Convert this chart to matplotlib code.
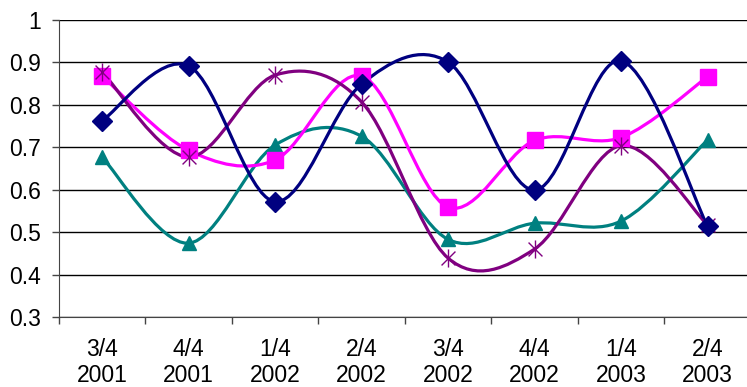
import numpy as np
import matplotlib
matplotlib.use("Agg")
import matplotlib.pyplot as plt
from matplotlib.path import Path
from matplotlib.patches import PathPatch

plt.rcParams['font.family'] = ['Liberation Sans', 'DejaVu Sans']

# quarters on the x axis
quarters = ["3/4\n2001", "4/4\n2001", "1/4\n2002", "2/4\n2002",
            "3/4\n2002", "4/4\n2002", "1/4\n2003", "2/4\n2003"]

navy_vals = [0.762, 0.892, 0.572, 0.849, 0.901, 0.599, 0.904, 0.514]
pink_vals = [0.868, 0.693, 0.670, 0.868, 0.559, 0.716, 0.723, 0.866]
teal_vals = [0.677, 0.474, 0.705, 0.726, 0.483, 0.521, 0.526, 0.717]
purple_vals = [0.878, 0.677, 0.870, 0.807, 0.439, 0.460, 0.704, 0.517]


def smooth_path(xs, ys):
    # Catmull-Rom style bezier through every point, like spreadsheet smoothing
    pts = np.column_stack([xs, ys]).astype(float)
    n = len(pts)
    verts = [pts[0]]
    codes = [Path.MOVETO]
    for i in range(n - 1):
        p0 = pts[max(i - 1, 0)]
        p1 = pts[i]
        p2 = pts[i + 1]
        p3 = pts[min(i + 2, n - 1)]
        c1 = p1 + (p2 - p0) / 6.0
        c2 = p2 - (p3 - p1) / 6.0
        verts += [c1, c2, p2]
        codes += [Path.CURVE4] * 3
    return Path(verts, codes)


# asterisk: x plus a vertical bar
star = Path([(-1, -1), (1, 1), (-1, 1), (1, -1), (0, -1.3), (0, 1.3)],
            [Path.MOVETO, Path.LINETO, Path.MOVETO, Path.LINETO,
             Path.MOVETO, Path.LINETO])

fig = plt.figure(figsize=(7.47, 3.87), dpi=100)
W, H = 747.0, 387.0
ax = fig.add_axes([58.75 / W, (H - 317) / H, 692.0 / W, 297.0 / H])

x = np.arange(len(quarters))
series = [
    (teal_vals, "#008080", "^", 10, None),
    (pink_vals, "#FF00FF", "s", 11.5, None),
    (purple_vals, "#800080", star, 13, 1.0),
    (navy_vals, "#000080", "D", 10.5, None),
]
for vals, col, mk, ms, mew in series:
    ax.add_patch(PathPatch(smooth_path(x, vals), fill=False,
                           edgecolor=col, lw=2.3, zorder=3))
    if mew:
        ax.plot(x, vals, ls="none", marker=mk, ms=ms, mec=col, mew=mew,
                zorder=4)
    else:
        ax.plot(x, vals, ls="none", marker=mk, ms=ms, color=col, zorder=4)

ax.set_xlim(-0.5, len(quarters) - 0.5)
ax.set_ylim(0.3, 1.0)
ax.set_yticks(np.arange(0.3, 1.01, 0.1))
ax.set_yticklabels(["0.3", "0.4", "0.5", "0.6", "0.7", "0.8", "0.9", "1"])
ax.yaxis.grid(True, color="black", lw=1)
ax.set_axisbelow(True)

# boundary ticks between quarters, labels centred on each quarter
ax.set_xticks(np.arange(-0.5, len(quarters), 1.0))
ax.set_xticklabels([])
ax.set_xticks(x, minor=True)
ax.set_xticklabels(quarters, minor=True, linespacing=1.2)
ax.tick_params(axis="x", which="minor", length=0, pad=15, labelsize=16.5)
ax.tick_params(axis="x", which="major", length=5, color="#444444", width=1)
ax.tick_params(axis="y", length=5, color="#444444", width=1, pad=8,
               labelsize=16.5)

for s in ["top", "right"]:
    ax.spines[s].set_visible(False)
ax.spines["left"].set_color("#444444")
ax.spines["bottom"].set_color("#444444")

fig.savefig("out.png", dpi=100)
